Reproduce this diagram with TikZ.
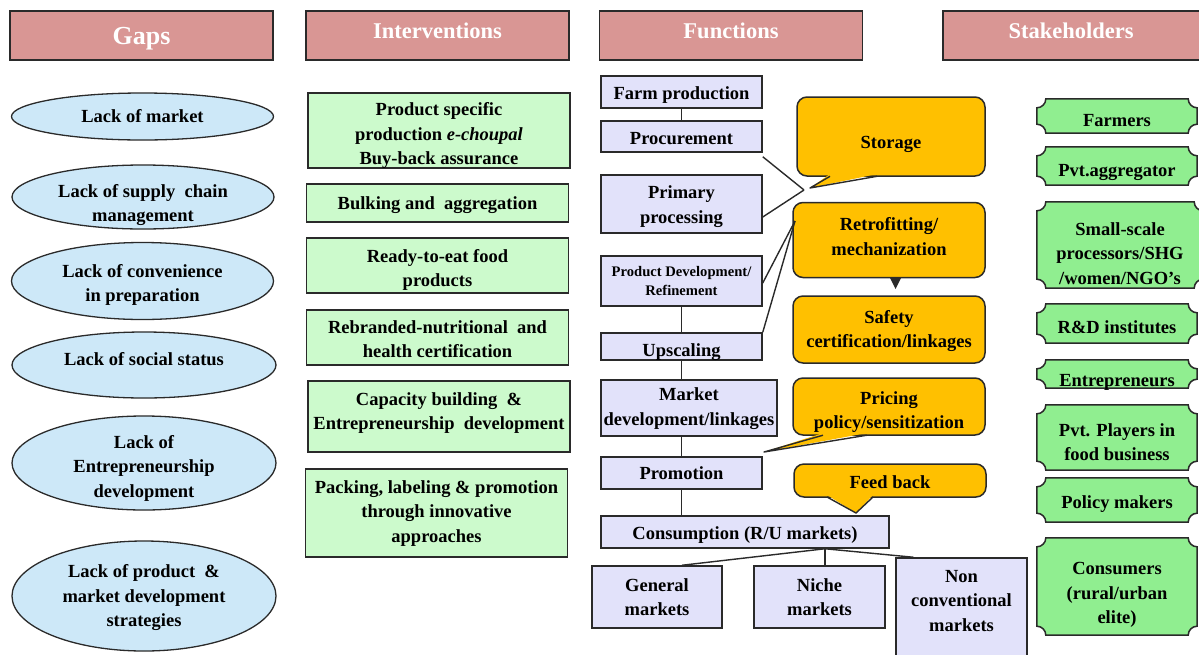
\documentclass[tikz,border=0pt]{standalone}
\usepackage{fontspec}
\setmainfont{Liberation Serif}
\usetikzlibrary{shapes.geometric,backgrounds,calc}
\definecolor{hdrc}{HTML}{D99694}
\definecolor{gapc}{HTML}{CDE8F8}
\definecolor{intc}{HTML}{CCFACC}
\definecolor{funcc}{HTML}{E2E2FA}
\definecolor{callc}{HTML}{FFC000}
\definecolor{stkc}{HTML}{90EE90}
\definecolor{edgec}{HTML}{2A2A2A}
\newcommand\tx[2]{\raisebox{#1}[\height][\depth]{\begin{tabular}{@{}c@{}}#2\end{tabular}}}
\newcommand\plaque[1]{%
 \begin{pgfonlayer}{background}
 \draw[stkp] ([xshift=9pt]#1.north west) -- ([xshift=-9pt]#1.north east)
   .. controls ([xshift=-9pt,yshift=-5pt]#1.north east) and ([xshift=-5pt,yshift=-9pt]#1.north east) .. ([yshift=-9pt]#1.north east)
   -- ([yshift=9pt]#1.south east)
   .. controls ([xshift=-5pt,yshift=9pt]#1.south east) and ([xshift=-9pt,yshift=5pt]#1.south east) .. ([xshift=-9pt]#1.south east)
   -- ([xshift=9pt]#1.south west)
   .. controls ([xshift=9pt,yshift=5pt]#1.south west) and ([xshift=5pt,yshift=9pt]#1.south west) .. ([yshift=9pt]#1.south west)
   -- ([yshift=-9pt]#1.north west)
   .. controls ([xshift=5pt,yshift=-9pt]#1.north west) and ([xshift=9pt,yshift=-5pt]#1.north west) .. ([xshift=9pt]#1.north west) -- cycle;
 \end{pgfonlayer}}
\begin{document}
\begin{tikzpicture}[x=1pt,y=-1pt,
 every node/.style={font=\bfseries\fontsize{18.5}{24.5}\selectfont, align=center, inner sep=0pt, text=black},
 hdr/.style={draw=edgec, line width=1.5pt, fill=hdrc, minimum width=263pt, minimum height=49pt, text=white, font=\bfseries\fontsize{22.5}{26}\selectfont},
 gap/.style={ellipse, draw=edgec, line width=1.3pt, fill=gapc, minimum width=262pt},
 intv/.style={draw=edgec, line width=1.5pt, fill=intc, minimum width=262pt},
 fbox/.style={draw=edgec, line width=1.5pt, fill=funcc, minimum width=161pt},
 call/.style={draw=edgec, line width=1.5pt, fill=callc, rounded corners=10pt, minimum width=192pt},
 stk/.style={minimum width=160pt},
 stkp/.style={draw=edgec, line width=1.5pt, fill=stkc},
 conn/.style={draw=edgec, line width=1.4pt},
 tail/.style={draw=edgec, line width=1.4pt, line join=round}
]
\useasboundingbox (0,0) rectangle (1199,654);
% headers
\node[hdr, font=\bfseries\fontsize{26}{30}\selectfont] (hgaps) at (141.5,35.5) {\tx{-3pt}{Gaps}};
\node[hdr] (hint) at (437.5,35.5) {\tx{2pt}{Interventions}};
\node[hdr] (hfun) at (731,35.5) {\tx{2pt}{Functions}};
\node[hdr, minimum width=262pt] (hstk) at (1074,35.5) {\tx{2pt}{\hspace*{-6pt}Stakeholders}};
% gaps
\node[gap, minimum height=47pt, label={center:Lack of market}] (g1) at (142.5,116.5) {};
\node[gap, minimum height=64pt, label={[yshift=-8pt]center:Lack of supply \ chain\\management}] (g2) at (143,197) {};
\node[gap, minimum height=77pt, label={[yshift=-4pt]center:Lack of convenience\\in preparation}] (g3) at (142.5,281) {};
\node[gap, minimum height=66pt, minimum width=264pt, label={[yshift=6pt]center:Lack of social status}] (g4) at (144,365) {};
\node[gap, minimum height=94pt, minimum width=264pt, label={[yshift=-5pt]center:Lack of\\Entrepreneurship\\development}] (g5) at (144,463) {};
\node[gap, minimum height=110pt, minimum width=264pt, label={[yshift=-2pt]center:Lack of product \ \&\\market development\\strategies}] (g6) at (144,596) {};
% interventions
\node[intv, minimum height=75pt] (i1) at (439,130.5) {\tx{-5pt}{Product specific\\production \textit{e-choupal}\\Buy-back assurance}};
\node[intv, minimum height=38pt] (i2) at (437.5,203) {\tx{-2pt}{Bulking and \ aggregation}};
\node[intv, minimum height=55pt] (i3) at (437.5,265.5) {\tx{-4pt}{Ready-to-eat food\\products}};
\node[intv, minimum height=55pt] (i4) at (437.5,337.5) {\tx{-3pt}{Rebranded-nutritional \ and\\health certification}};
\node[intv, minimum height=71pt] (i5) at (439,416.5) {\tx{4pt}{Capacity building \ \&\\Entrepreneurship \ development}};
\node[intv, minimum height=88pt] (i6) at (436.5,513) {\tx{0pt}{Packing, labeling \& promotion\\through innovative\\approaches}};
% functions
\node[fbox, minimum height=32pt] (fp) at (681.5,92) {\tx{-3pt}{Farm production}};
\node[fbox, minimum height=31pt] (pc) at (681.5,136.5) {\tx{-3pt}{Procurement}};
\node[fbox, minimum height=58pt] (pp) at (681.5,204) {\tx{-2pt}{Primary\\processing}};
\node[fbox, minimum height=50pt, font=\bfseries\fontsize{14.6}{19}\selectfont] (pd) at (681.5,281) {Product Development/\\Refinement};
\node[fbox, minimum height=27pt] (up) at (681.5,346.5) {\tx{-5pt}{Upscaling}};
\node[fbox, minimum width=176pt, minimum height=56pt] (md) at (689,408) {\tx{0pt}{Market\\development/linkages}};
\node[fbox, minimum height=32pt] (pr) at (681.5,473) {Promotion};
\node[fbox, minimum width=288pt, minimum height=32pt] (cs) at (745,532) {\tx{-3pt}{Consumption (R/U markets)}};
\node[fbox, minimum width=130pt, minimum height=62pt] (gm) at (657,597) {General\\markets};
\node[fbox, minimum width=131pt, minimum height=62pt] (nm) at (819.5,597) {Niche\\markets};
\node[fbox, minimum width=131pt, minimum height=104pt, label={[yshift=9pt]center:Non\\conventional\\markets}] (nc) at (961.5,610) {};
% function connectors
\draw[conn] (fp) -- (pc);
\draw[conn] (pd) -- (up);
\draw[conn] (up.south) -- (up.south |- md.north);
\draw[conn] (pr.north |- md.south) -- (pr.north);
\draw[conn] (pr.south) -- (pr.south |- cs.north);
\coordinate (cb) at ([xshift=80pt]cs.south);
\draw[conn] (cb) -- ([xshift=25pt]gm.north);
\draw[conn] (cb) -- (cb |- nm.north);
\draw[conn] (cb) -- ([xshift=-48pt]nc.north);
% callouts
\node[call, minimum width=188pt, minimum height=79pt] (st) at (891,136.5) {\tx{-7pt}{Storage}};
\node[call, minimum height=75pt] (rf) at (889,240) {\tx{2pt}{Retrofitting/\\mechanization}};
\node[call, minimum height=67pt] (sf) at (889,329.5) {\tx{-1pt}{Safety\\certification/linkages}};
\node[call, minimum height=57pt] (pz) at (889,406.5) {\tx{-5pt}{Pricing\\policy/sensitization}};
\node[call, minimum height=33pt] (fb) at (890,480.5) {\tx{-3pt}{Feed back}};
% storage tail
\coordinate (stA) at (830,176.3);
\coordinate (stB) at (877,176.3);
\coordinate (stT) at (810,188);
\fill[callc] (830,174) -- (stT) -- (877,174) -- cycle;
\draw[tail] (stA) -- (stT) -- (stB);
\coordinate (stL) at (804,190);
\draw[conn] ([yshift=-4pt]pc.south east) -- (stL);
\draw[conn] ([yshift=-13pt]pp.east) -- (stL);
% retrofitting
\coordinate (rfL) at (795,221);
\draw[conn] ([yshift=-2pt]pd.east) -- (rfL);
\draw[conn] (up.north east) -- (rfL);
\fill[edgec] (889.5,277) -- (901.5,277) -- (895.5,289) -- cycle;
% pricing tail
\coordinate (pzT) at (764,452);
\fill[callc] (823,433) -- (pzT) -- (867,433) -- cycle;
\draw[tail] (823,435.2) -- (pzT) -- (867,435.2);
% feed back tail
\coordinate (fbT) at (856,513);
\fill[callc] (827,495) -- (fbT) -- (873,495) -- cycle;
\draw[tail] (827,497) -- (fbT) -- (873,497);
% stakeholders
\node[stk, minimum height=34pt] (s1) at (1117,116) {\tx{-6pt}{Farmers}};
\node[stk, minimum height=38pt] (s2) at (1117,166) {\tx{-6pt}{Pvt.aggregator}};
\node[stk, minimum width=166pt, minimum height=86pt] (s3) at (1120,245) {\tx{-10pt}{Small-scale\\processors/SHG\\/women/NGO’s}};
\node[stk, minimum height=39pt] (s4) at (1117,323.5) {\tx{-5pt}{R\&D institutes}};
\node[stk, minimum height=28pt] (s5) at (1117,374) {\tx{-8pt}{Entrepreneurs}};
\node[stk, minimum height=65pt] (s6) at (1117,437.5) {\tx{-6pt}{Pvt. Players in\\food business}};
\node[stk, minimum height=44pt] (s7) at (1117,500) {\tx{-4pt}{Policy makers}};
\node[stk, minimum height=97pt] (s8) at (1117,586.5) {\tx{-8pt}{Consumers\\(rural/urban\\elite)}};
\plaque{s1}\plaque{s2}\plaque{s3}\plaque{s4}\plaque{s5}\plaque{s6}\plaque{s7}\plaque{s8}
\end{tikzpicture}
\end{document}
